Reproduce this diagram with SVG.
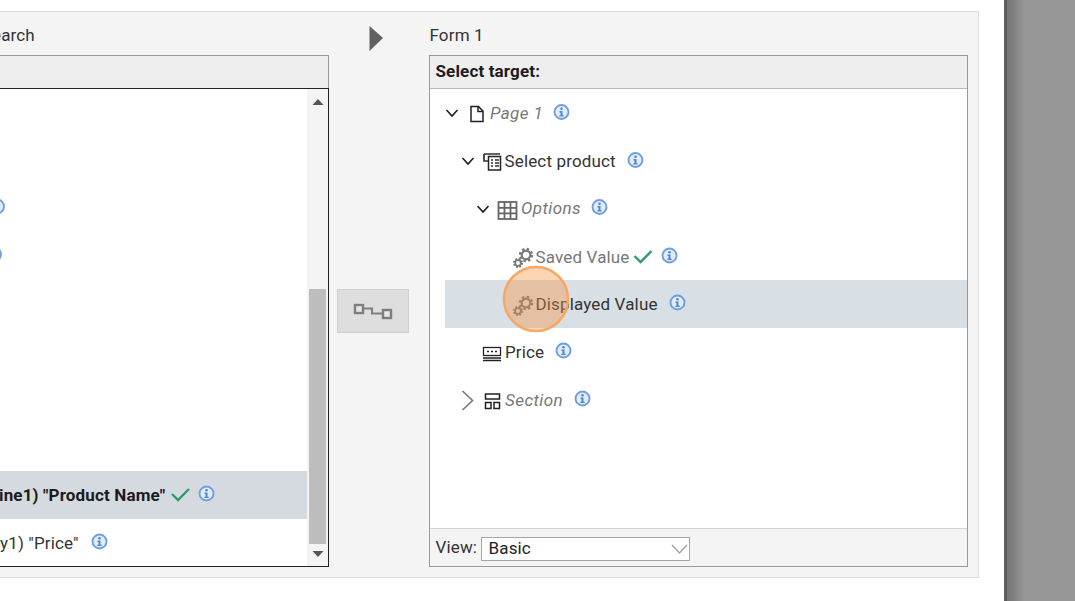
<svg xmlns="http://www.w3.org/2000/svg" width="1075" height="601" viewBox="0 0 1075 601">
<defs>
<linearGradient id="shade" x1="0" x2="1" y1="0" y2="0"><stop offset="0" stop-color="#6e6e6e"/><stop offset="1" stop-color="#969696"/></linearGradient>
<g id="info"><circle r="7" fill="#e3ecf9" stroke="#6f9fde" stroke-width="1.900"/><circle cy="-3.300" r="1.300" fill="#4f86d2"/><path d="M-2-1H1V3.200H2.200V4.600H-2.200V3.200H-1V.4H-2Z" fill="#4f86d2"/></g>
<path id="chev" d="M-5.500-3L0 3L5.500-3" fill="none" stroke="#1c1c1c" stroke-width="1.600"/>
<path id="check" d="M0 0L6 6L17-5" fill="none" stroke="#2e9b6b" stroke-width="2.400"/>
<g id="gears" fill="none" stroke="#7a7a7a">
<circle cx="526" cy="0" r="5.800" stroke-width="2.800" stroke-dasharray="2.300 2.250"/>
<circle cx="526" cy="0" r="4.300" stroke-width="2.200"/>
<circle cx="518" cy="8" r="4" stroke-width="2.200" stroke-dasharray="1.700 1.440"/>
<circle cx="518" cy="8" r="2.900" stroke-width="1.800"/>
</g>
</defs>
<style>
text{font-family:Roboto,"Liberation Sans",sans-serif;font-size:17px;fill:#333;letter-spacing:.15px}
.it{font-style:italic;fill:#777;letter-spacing:.42px}
.gr{fill:#777}
.b{font-weight:700;fill:#1c1c1c}
.dk{fill:#222}
</style>

<rect width="1075" height="601" fill="#fff"/>
<rect x="1004" y="0" width="71" height="601" fill="#979797"/>
<rect x="1004" y="0" width="20" height="601" fill="url(#shade)"/>
<rect x="1004" y="0" width="3" height="601" fill="#5c5c5c"/>

<rect id="panel" x="-10" y="11.500" width="988.500" height="566" fill="#f4f4f4" stroke="#ddd"/>

<g id="source-panel">
<text x="-8" y="40.500">earch</text>
<rect x="-10" y="55.500" width="338.500" height="511" fill="#eee" stroke="#999"/>
<rect x="-10" y="88.500" width="338.500" height="478" fill="#fff" stroke="#222"/>
<rect x="307" y="89" width="21" height="477" fill="#f4f4f4"/>
<rect x="309" y="289" width="17" height="255" fill="#bdbdbd"/>
<path d="M312.500 105L318 99L323.500 105Z" fill="#555"/>
<path d="M312.500 551L318 557L323.500 551Z" fill="#555"/>
<g id="info-fragment-1"><use href="#info" x="-3" y="206.500"/></g>
<g id="info-fragment-2"><use href="#info" x="-6" y="254.500"/></g>
<g id="row-product-name">
<rect x="0" y="471" width="307" height="48" fill="#d5dae0"/>
<text x="-1" y="501" class="b">ine1) "Product Name"</text>
<use href="#check" x="172" y="494"/>
<use href="#info" x="206.500" y="493.500"/>
</g>
<g id="row-price">
<text x="0" y="549">y1) "Price"</text>
<use href="#info" x="99.500" y="541.500"/>
</g>
</g>

<path id="divider-arrow" d="M369.500 26L383 38L369.500 51Z" fill="#616161"/>

<g id="map-button">
<rect x="337.500" y="289.500" width="71" height="43" fill="#dedede" stroke="#cfcfcf"/>
<rect x="355" y="305" width="8" height="8" fill="#e6e6e6" stroke="#7e7e7e" stroke-width="2.400"/>
<rect x="383" y="310" width="8" height="8" fill="#e6e6e6" stroke="#7e7e7e" stroke-width="2.400"/>
<path d="M364 308.500H372V313.500H382" fill="none" stroke="#7e7e7e" stroke-width="2"/>
</g>

<g id="target-panel">
<text x="429.500" y="40.500">Form 1</text>
<rect x="429.500" y="55.500" width="538" height="511" fill="#f4f4f4" stroke="#999"/>
<rect x="430" y="56" width="537" height="32" fill="#eee"/>
<path d="M430 88.500H967" stroke="#bbb"/>
<text x="435.500" y="76.500" class="b">Select target:</text>
<rect x="430" y="89" width="537" height="439" fill="#fff"/>
<path d="M430 528.500H967" stroke="#d4d4d4"/>
</g>

<g id="node-page-1">
<use href="#chev" x="452" y="113"/>
<path d="M471 106.500H478.500L483 111V121.500H471ZM478 106.500V111.500H483" fill="#fff" stroke="#222" stroke-width="1.500"/>
<text x="490" y="119" class="it">Page 1</text>
<use href="#info" x="561.500" y="112"/>
</g>
<g id="node-select-product">
<use href="#chev" x="468" y="161"/>
<path d="M484 154H500M484 154V161H488" fill="none" stroke="#333" stroke-width="1.700"/>
<rect x="488.500" y="156.500" width="12" height="13.500" fill="#fff" stroke="#222" stroke-width="1.500"/>
<path d="M491 160H493M495 160H499M491 163H493M495 163H499M491 166H493M495 166H499" stroke="#333" stroke-width="1.500"/>
<text x="504.500" y="167">Select product</text>
<use href="#info" x="635.500" y="160"/>
</g>
<g id="node-options">
<use href="#chev" x="483" y="209"/>
<rect x="498.500" y="202" width="18" height="17" fill="#fff" stroke="#666" stroke-width="1.800"/>
<path d="M504.500 202V219M510.500 202V219M498.500 207.800H516.500M498.500 213.300H516.500" stroke="#666" stroke-width="1.800"/>
<text x="521" y="214" class="it">Options</text>
<use href="#info" x="599.500" y="207"/>
</g>
<g id="node-saved-value">
<use href="#gears" y="255"/>
<text x="535.500" y="263" class="gr">Saved Value</text>
<use href="#check" x="634.500" y="256"/>
<use href="#info" x="669.500" y="255.500"/>
</g>
<g id="node-displayed-value">
<rect x="445" y="280" width="522" height="48" fill="#d8dfe5"/>
<use href="#gears" y="303"/>
<text x="535.500" y="310" fill="#333">Displayed Value</text>
<use href="#info" x="677.500" y="302.500"/>
</g>
<g id="node-price">
<rect x="483.500" y="347.500" width="17" height="8" fill="#fff" stroke="#222" stroke-width="1.300"/>
<path d="M487 351.500H489M491 351.500H493M495 351.500H497" stroke="#222" stroke-width="1.500"/>
<path d="M483 358H501M483 360.500H501" stroke="#222" stroke-width="1.300"/>
<text x="505" y="358">Price</text>
<use href="#info" x="563.500" y="350.500"/>
</g>
<g id="node-section">
<path d="M462.500 391L472.500 400.500L462.500 410" fill="none" stroke="#777" stroke-width="1.600"/>
<path d="M485.500 394V399H499.500V394ZM485.500 402.500H491V408.500H485.500ZM494 402.500H499.500V408.500H494Z" fill="#fff" stroke="#222" stroke-width="1.500"/>
<text x="505" y="406" class="it">Section</text>
<use href="#info" x="582.500" y="398.500"/>
</g>

<g id="view-select">
<text x="435.500" y="553">View:</text>
<rect x="481.500" y="537.500" width="208" height="23" fill="#fff" stroke="#a5a5a5"/>
<text x="488.500" y="554" class="dk">Basic</text>
<path d="M672 545L679.500 553L687 545" fill="none" stroke="#a5a5a5" stroke-width="1.500"/>
</g>

<circle id="click-marker" cx="536" cy="299" r="32" fill="#f7913c" fill-opacity=".38" stroke="#f8a660" stroke-width="2.500"/>
</svg>
